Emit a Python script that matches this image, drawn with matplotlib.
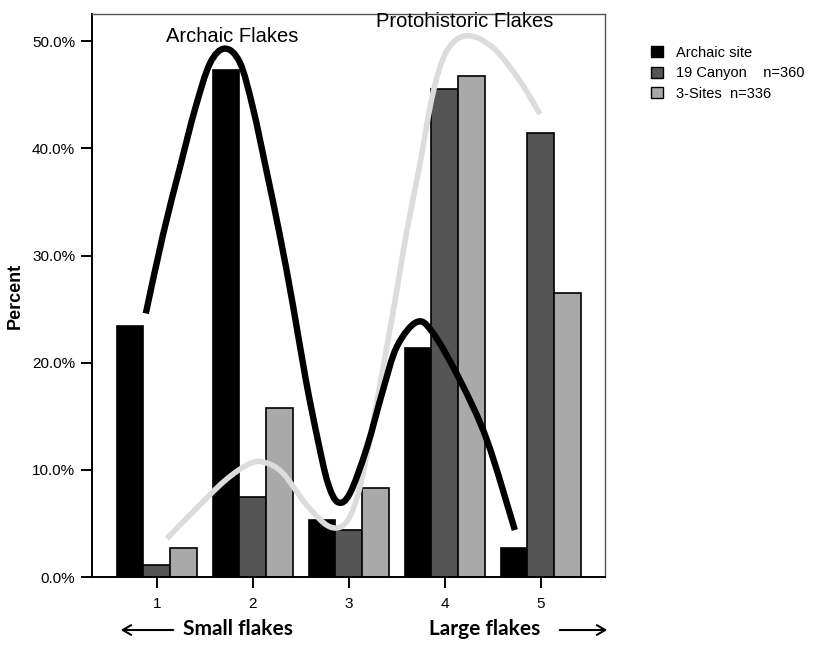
import numpy as np
import matplotlib
matplotlib.use("Agg")
import matplotlib.pyplot as plt
from matplotlib.patches import Patch, PathPatch, FancyArrowPatch
from matplotlib.path import Path

plt.rcParams["font.family"] = ["Liberation Sans", "DejaVu Sans"]

# --------------------------------------------------
# Daten
# --------------------------------------------------
categories = [1, 2, 3, 4, 5]
archaic = [23.4, 47.3, 5.3, 21.4, 2.7]
canyon19 = [1.1, 7.5, 4.4, 45.5, 41.4]
sites3 = [2.7, 15.8, 8.3, 46.7, 26.5]

series_labels = ["Archaic site", "19 Canyon    n=360", "3-Sites  n=336"]
series_colors = ["#000000", "#555555", "#a9a9a9"]

# hand-drawn trend curves
archaic_curve_x = [0.885, 1.063, 1.240, 1.396, 1.552, 1.708, 1.865, 2.0,
                   2.135, 2.281, 2.417, 2.552, 2.677, 2.781, 2.885, 3.01,
                   3.188, 3.354, 3.5, 3.708, 3.875, 4.156, 4.438, 4.729]
archaic_curve_y = [24.6, 31.9, 38.2, 43.6, 47.9, 49.3, 48.0, 43.8,
                   38.2, 31.9, 25.4, 18.4, 12.8, 8.8, 7.0, 7.8,
                   12.1, 17.4, 21.5, 23.8, 22.8, 18.4, 12.8, 4.4]

proto_curve_x = [1.104, 1.365, 1.708, 1.969, 2.125, 2.313, 2.563, 2.802,
                 2.979, 3.115, 3.25, 3.396, 3.5, 3.604, 3.74, 3.875,
                 4.021, 4.229, 4.5, 4.781, 4.99]
proto_curve_y = [3.6, 6.0, 9.0, 10.6, 10.7, 9.7, 6.7, 4.7,
                 5.2, 8.4, 14.4, 21.5, 26.8, 32.3, 38.5, 45.1,
                 49.1, 50.5, 49.4, 46.3, 43.2]

yticks = [0, 10, 20, 30, 40, 50]


def smooth_path(xs, ys):
    # Catmull-Rom through the points, drawn as cubic Bezier segments
    pts = np.column_stack([xs, ys])
    n = len(pts)
    verts = [pts[0]]
    codes = [Path.MOVETO]
    for i in range(n - 1):
        p0 = pts[max(i - 1, 0)]
        p1 = pts[i]
        p2 = pts[i + 1]
        p3 = pts[min(i + 2, n - 1)]
        verts += [p1 + (p2 - p0) / 6, p2 - (p3 - p1) / 6, p2]
        codes += [Path.CURVE4] * 3
    return Path(verts, codes)


# --------------------------------------------------
# Plot
# --------------------------------------------------
fig = plt.figure(figsize=(8.13, 6.5), dpi=100)
ax = fig.add_axes([0.113, 0.112, 0.631, 0.866])

x = np.array(categories, dtype=float)
w = 0.28
for i, (vals, col) in enumerate(zip([archaic, canyon19, sites3], series_colors)):
    ax.bar(x + (i - 1) * w, vals, width=w, color=col, edgecolor="black",
           linewidth=1.2, zorder=2)

ax.add_patch(PathPatch(smooth_path(proto_curve_x, proto_curve_y), fill=False,
                       edgecolor="#dcdcdc", lw=4.0, capstyle="butt", zorder=3))
ax.add_patch(PathPatch(smooth_path(archaic_curve_x, archaic_curve_y), fill=False,
                       edgecolor="black", lw=4.6, capstyle="butt", zorder=4))

ax.set_xlim(0.323, 5.667)
ax.set_ylim(0, 52.5)
ax.set_xticks(categories)
ax.set_xticklabels([str(c) for c in categories])
ax.set_yticks(yticks)
ax.set_yticklabels([f"{v:.1f}%" for v in yticks])
ax.tick_params(axis="both", direction="out", length=8, width=1.4,
               labelsize=11, pad=4)
ax.tick_params(axis="x", pad=6)

for side in ["left", "bottom"]:
    ax.spines[side].set_linewidth(1.4)
    ax.spines[side].set_color("black")
for side in ["top", "right"]:
    ax.spines[side].set_linewidth(1.0)
    ax.spines[side].set_color("#555555")

ax.set_ylabel("Percent", fontsize=13, fontweight="bold")
ax.yaxis.set_label_coords(-0.133, 0.5)

ax.text(1.78, 50.4, "Archaic Flakes", fontsize=14.5, ha="center", va="center")
ax.text(4.21, 51.8, "Protohistoric Flakes", fontsize=14.5, ha="center", va="center")

# legend
handles = [Patch(facecolor=c, edgecolor="black", linewidth=1.0) for c in series_colors]
fig.legend(handles, series_labels, loc="upper left",
           bbox_to_anchor=(0.785, 0.95), frameon=False, fontsize=10.5,
           handlelength=0.8, handleheight=0.8, handletextpad=0.9,
           labelspacing=0.45)

# bottom annotations
fig.text(238 / 813, 1 - 629 / 650, "Small flakes", fontsize=15,
         fontweight="bold", ha="center", va="center", family=["Lato", "DejaVu Sans"])
fig.text(485 / 813, 1 - 629 / 650, "Large flakes", fontsize=15,
         fontweight="bold", ha="center", va="center", family=["Lato", "DejaVu Sans"])
ya = 1 - 630 / 650
fig.add_artist(FancyArrowPatch(
    (176 / 813, ya), (118 / 813, ya), transform=fig.transFigure,
    arrowstyle="->,head_length=6,head_width=3.5", lw=1.5, color="black"))
fig.add_artist(FancyArrowPatch(
    (557 / 813, ya), (610 / 813, ya), transform=fig.transFigure,
    arrowstyle="->,head_length=6,head_width=3.5", lw=1.5, color="black"))

fig.savefig("out.png", dpi=100)
